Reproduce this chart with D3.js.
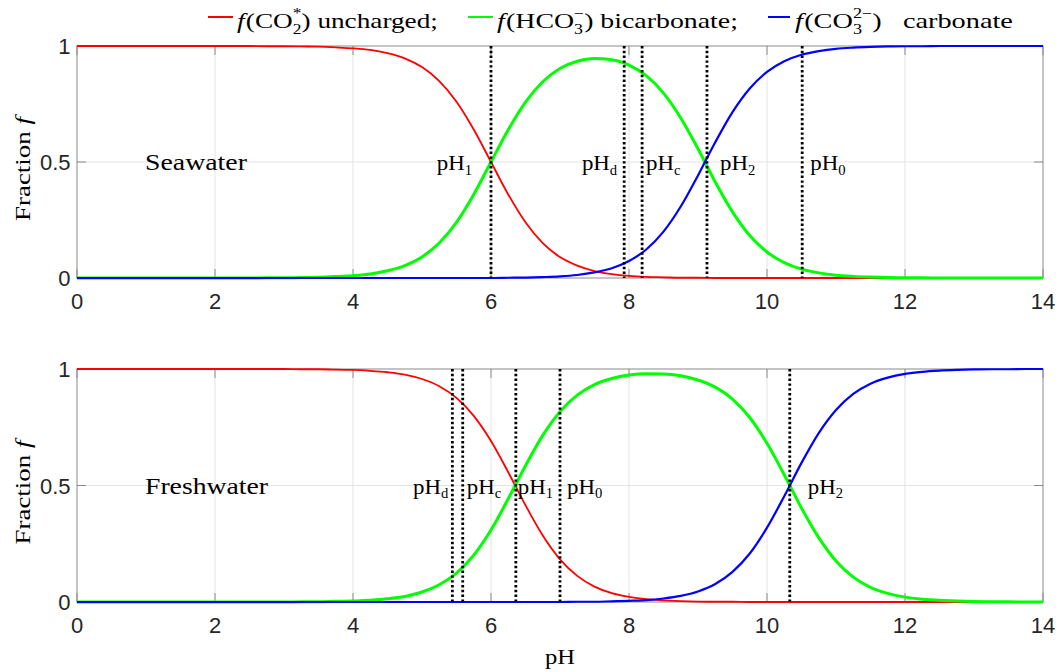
<!DOCTYPE html>
<html>
<head>
<meta charset="utf-8">
<script src="https://cdn.jsdelivr.net/npm/d3@7"></script>
<style>
  html, body { margin: 0; padding: 0; background: #fff; }
  svg { display: block; }
  text { white-space: pre; }
</style>
</head>
<body>
<svg id="chart" width="1060" height="672"></svg>
<script>
// ---- data -----------------------------------------------------------------
const pH = [0, 0.25, 0.5, 0.75, 1, 1.25, 1.5, 1.75, 2, 2.25, 2.5, 2.75,
            3, 3.25, 3.5, 3.75, 4, 4.25, 4.5, 4.75, 5, 5.25, 5.5, 5.75,
            6, 6.25, 6.5, 6.75, 7, 7.25, 7.5, 7.75, 8, 8.25, 8.5, 8.75,
            9, 9.25, 9.5, 9.75, 10, 10.25, 10.5, 10.75, 11, 11.25, 11.5, 11.75,
            12, 12.25, 12.5, 12.75, 13, 13.25, 13.5, 13.75, 14];

// Seawater speciation fractions
const seaCO2  = [1, 1, 1, 1, 1, 1, 1, 1, 1, 1, 1, 0.999,
                 0.999, 0.998, 0.997, 0.994, 0.990, 0.983, 0.969, 0.947, 0.909, 0.849, 0.760, 0.640,
                 0.500, 0.360, 0.240, 0.150, 0.090, 0.053, 0.030, 0.017, 0.009, 0.005, 0.003, 0.001,
                 0.001, 0, 0, 0, 0, 0, 0, 0, 0, 0, 0, 0,
                 0, 0, 0, 0, 0, 0, 0, 0, 0];
const seaHCO3 = [0, 0, 0, 0, 0, 0, 0, 0, 0, 0, 0, 0.001,
                 0.001, 0.002, 0.003, 0.006, 0.010, 0.017, 0.031, 0.053, 0.091, 0.151, 0.240, 0.360,
                 0.500, 0.639, 0.758, 0.846, 0.903, 0.934, 0.946, 0.941, 0.918, 0.872, 0.797, 0.690,
                 0.557, 0.414, 0.285, 0.183, 0.112, 0.066, 0.038, 0.022, 0.012, 0.007, 0.004, 0.002,
                 0.001, 0.001, 0, 0, 0, 0, 0, 0, 0];
const seaCO3  = [0, 0, 0, 0, 0, 0, 0, 0, 0, 0, 0, 0,
                 0, 0, 0, 0, 0, 0, 0, 0, 0, 0, 0, 0,
                 0, 0.001, 0.002, 0.004, 0.007, 0.013, 0.024, 0.042, 0.073, 0.123, 0.200, 0.308,
                 0.442, 0.585, 0.715, 0.817, 0.888, 0.934, 0.962, 0.978, 0.988, 0.993, 0.996, 0.998,
                 0.999, 0.999, 1, 1, 1, 1, 1, 1, 1];

// Freshwater speciation fractions
const freshCO2  = [1, 1, 1, 1, 1, 1, 1, 1, 1, 1, 1, 1,
                   1, 0.999, 0.999, 0.997, 0.996, 0.992, 0.986, 0.976, 0.957, 0.926, 0.876, 0.799,
                   0.691, 0.557, 0.415, 0.285, 0.183, 0.112, 0.066, 0.038, 0.022, 0.012, 0.007, 0.004,
                   0.002, 0.001, 0.001, 0, 0, 0, 0, 0, 0, 0, 0, 0,
                   0, 0, 0, 0, 0, 0, 0, 0, 0];
const freshHCO3 = [0, 0, 0, 0, 0, 0, 0, 0, 0, 0, 0, 0,
                   0, 0.001, 0.001, 0.003, 0.004, 0.008, 0.014, 0.024, 0.043, 0.074, 0.124, 0.201,
                   0.309, 0.443, 0.585, 0.715, 0.817, 0.888, 0.933, 0.959, 0.974, 0.980, 0.979, 0.971,
                   0.953, 0.922, 0.871, 0.792, 0.681, 0.546, 0.403, 0.276, 0.176, 0.107, 0.063, 0.037,
                   0.021, 0.012, 0.007, 0.004, 0.002, 0.001, 0.001, 0, 0];
const freshCO3  = [0, 0, 0, 0, 0, 0, 0, 0, 0, 0, 0, 0,
                   0, 0, 0, 0, 0, 0, 0, 0, 0, 0, 0, 0,
                   0, 0, 0, 0, 0, 0.001, 0.001, 0.003, 0.005, 0.008, 0.015, 0.026,
                   0.045, 0.077, 0.129, 0.208, 0.319, 0.454, 0.597, 0.725, 0.824, 0.893, 0.937, 0.963,
                   0.979, 0.988, 0.993, 0.996, 0.998, 0.999, 0.999, 1, 1];

// Characteristic pH markers (label subscript, pH value)
const seaMarkerNames   = ['1', 'd', 'c', '2', '0'];
const seaMarkerPH      = [6.0, 7.93, 8.19, 9.13, 10.51];
const freshMarkerNames = ['d', 'c', '1', '0', '2'];
const freshMarkerPH    = [5.44, 5.59, 6.36, 7.0, 10.33];

const xTicks = [0, 2, 4, 6, 8, 10, 12, 14];
const xTickLabels = ['0', '2', '4', '6', '8', '10', '12', '14'];
const yTicks = [0, 0.5, 1];
const yTickLabels = ['0', '0.5', '1'];

const panelNames = ['Seawater', 'Freshwater'];

// ---- layout ---------------------------------------------------------------
const svg = d3.select('#chart');
const SERIF = '"Liberation Serif", "Times New Roman", serif';
const SANS = '"Liberation Sans", Arial, sans-serif';
const colors = ['#ff0000', '#00ff00', '#0000ff'];
const widths = [1.8, 3, 2.2];

const left = 77, right = 1043;
const panels = [
  { top: 46,  bottom: 278, series: [seaCO2, seaHCO3, seaCO3],
    names: seaMarkerNames, marks: seaMarkerPH,
    side: ['end', 'end', 'start', 'start', 'start'], gap: [19, 7, 4, 13, 8] },
  { top: 369, bottom: 602, series: [freshCO2, freshHCO3, freshCO3],
    names: freshMarkerNames, marks: freshMarkerPH,
    side: ['end', 'start', 'start', 'start', 'start'], gap: [4, 4, 2, 7, 18] }
];

const x = d3.scaleLinear().domain([0, 14]).range([left, right]);

// Lays out a run of text pieces (with sub/superscripts) as one text element
// and fits it to a width.
function mathText(parent, px, py, pieces, o) {
  const fs = o.size;
  const g = parent.append('g');
  const txt = g.append('text').attr('font-family', SERIF).attr('fill', '#000')
    .attr('font-size', fs);
  const stacked = p => p.sub !== undefined && p.sup !== undefined;
  let cx = 0;
  pieces.forEach(p => {
    if (p.sub !== undefined || p.sup !== undefined) {
      let w = 0;
      if (p.sub !== undefined) {
        const s = txt.append('tspan').attr('x', cx)
          .attr('y', fs * (stacked(p) ? 0.28 : 0.22))
          .attr('font-size', fs * 0.64).text(p.sub);
        w = Math.max(w, s.node().getComputedTextLength());
      }
      if (p.sup !== undefined) {
        const s = txt.append('tspan').attr('x', cx).attr('y', -fs * 0.44)
          .attr('font-size', fs * 0.64).text(p.sup);
        w = Math.max(w, s.node().getComputedTextLength());
      }
      cx += w;
    } else {
      const s = txt.append('tspan').attr('x', cx).attr('y', 0)
        .attr('font-style', p.italic ? 'italic' : 'normal').text(p.t);
      cx += s.node().getComputedTextLength() + (p.kern || 0);
    }
  });
  const sx = o.width ? o.width / cx : (o.sx || 1);
  const w = cx * sx;
  const off = o.anchor === 'end' ? w : (o.anchor === 'middle' ? w / 2 : 0);
  g.attr('transform', `translate(${px},${py}) rotate(${o.rotate || 0})`);
  txt.attr('transform', `translate(${-off},0) scale(${sx},1)`);
  return g;
}

panels.forEach((P, pi) => {
  const y = d3.scaleLinear().domain([0, 1]).range([P.bottom, P.top]);
  const g = svg.append('g');

  // grid
  g.append('g').selectAll('line').data(xTicks.slice(1, -1)).join('line')
    .attr('x1', d => x(d)).attr('x2', d => x(d))
    .attr('y1', P.top).attr('y2', P.bottom)
    .attr('stroke', '#e3e3e3').attr('stroke-width', 1);
  g.append('g').selectAll('line').data(yTicks.slice(1, -1)).join('line')
    .attr('x1', left).attr('x2', right)
    .attr('y1', d => y(d)).attr('y2', d => y(d))
    .attr('stroke', '#e3e3e3').attr('stroke-width', 1);

  // box
  g.append('rect').attr('x', left).attr('y', P.top)
    .attr('width', right - left).attr('height', P.bottom - P.top)
    .attr('fill', 'none').attr('stroke', '#8a8a8a').attr('stroke-width', 1);

  // inward ticks
  const tl = 9;
  const tk = g.append('g').attr('stroke', '#8a8a8a').attr('stroke-width', 1);
  xTicks.forEach(v => {
    tk.append('line').attr('x1', x(v)).attr('x2', x(v)).attr('y1', P.bottom).attr('y2', P.bottom - tl);
    tk.append('line').attr('x1', x(v)).attr('x2', x(v)).attr('y1', P.top).attr('y2', P.top + tl);
  });
  yTicks.forEach(v => {
    tk.append('line').attr('x1', left).attr('x2', left + tl).attr('y1', y(v)).attr('y2', y(v));
    tk.append('line').attr('x1', right).attr('x2', right - tl).attr('y1', y(v)).attr('y2', y(v));
  });

  // tick labels
  g.append('g').selectAll('text').data(xTicks).join('text')
    .attr('x', d => x(d)).attr('y', P.bottom + 31)
    .attr('text-anchor', 'middle').attr('font-family', SANS).attr('font-size', 22)
    .attr('fill', '#262626').text((d, i) => xTickLabels[i]);
  g.append('g').selectAll('text').data(yTicks).join('text')
    .attr('x', 70.5).attr('y', d => y(d) + 8)
    .attr('text-anchor', 'end').attr('font-family', SANS).attr('font-size', 22)
    .attr('fill', '#262626').text((d, i) => yTickLabels[i]);

  // curves
  const line = d3.line().x((d, i) => x(pH[i])).y(d => y(d))
    .curve(d3.curveMonotoneX);
  P.series.forEach((s, si) => {
    g.append('path').datum(s).attr('d', line)
      .attr('fill', 'none').attr('stroke', colors[si])
      .attr('stroke-width', widths[si]).attr('stroke-linejoin', 'round');
  });

  // characteristic pH markers
  g.append('g').selectAll('line').data(P.marks).join('line')
    .attr('x1', d => x(d)).attr('x2', d => x(d))
    .attr('y1', P.top).attr('y2', P.bottom)
    .attr('stroke', '#000').attr('stroke-width', 2.8)
    .attr('stroke-dasharray', '2.4 2.4');

  P.marks.forEach((v, mi) => {
    const side = P.side[mi];
    const px = side === 'end' ? x(v) - P.gap[mi] : x(v) + P.gap[mi];
    mathText(g, px, y(0.5) + 8,
      [{ t: 'pH' }, { sub: P.names[mi] }],
      { size: 22, sx: 1.04, anchor: side });
  });

  // panel title
  mathText(g, 145, y(0.5) + 8, [{ t: panelNames[pi] }],
    { size: 23, width: pi === 0 ? 102 : 123 });

  // y-axis label
  mathText(g, 30, (P.top + P.bottom) / 2 + 7,
    [{ t: 'Fraction ' }, { t: 'f', italic: true }],
    { size: 22, width: 104, anchor: 'middle', rotate: -90 });
});

// x-axis label
mathText(svg, x(7), 664, [{ t: 'pH' }], { size: 22, sx: 1.12, anchor: 'middle' });

// legend
const legendItems = [
  { lx: 208, lw: 25, tx: 237, tw: 201,
    pieces: [{ t: 'f', italic: true, kern: 1 }, { t: '(CO' }, { sub: '2', sup: '*' }, { t: ') uncharged;' }] },
  { lx: 468, lw: 25, tx: 497, tw: 241,
    pieces: [{ t: 'f', italic: true, kern: 1 }, { t: '(HCO' }, { sub: '3', sup: '\u2212' }, { t: ') bicarbonate;' }] },
  { lx: 768, lw: 22, tx: 795, tw: 218,
    pieces: [{ t: 'f', italic: true, kern: 1 }, { t: '(CO' }, { sub: '3', sup: '2\u2212' }, { t: ')   carbonate' }] }
];
legendItems.forEach((it, i) => {
  svg.append('line').attr('x1', it.lx).attr('x2', it.lx + it.lw)
    .attr('y1', 17).attr('y2', 17)
    .attr('stroke', colors[i]).attr('stroke-width', 2);
  mathText(svg, it.tx, 28, it.pieces, { size: 22, width: it.tw });
});
</script>
</body>
</html>
